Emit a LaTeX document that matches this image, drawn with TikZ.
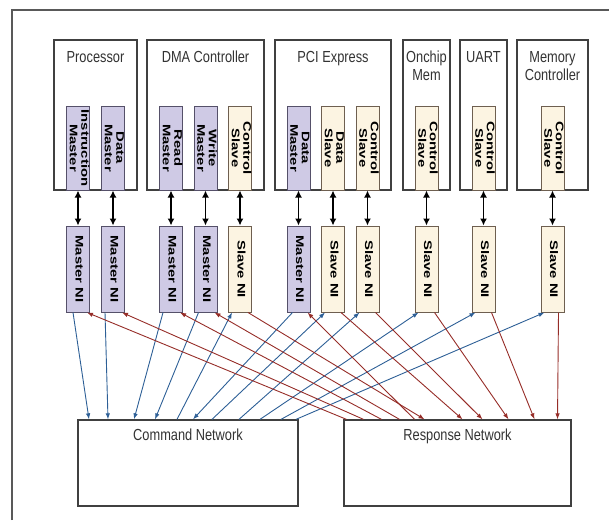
\documentclass[tikz,border=0pt]{standalone}
\usepackage{fontspec}
\setmainfont{Liberation Sans}
\usepackage{graphicx}
\usetikzlibrary{arrows.meta}
\definecolor{mastercol}{RGB}{207,202,229}
\definecolor{masterline}{RGB}{85,80,105}
\definecolor{slavecol}{RGB}{252,244,226}
\definecolor{slaveline}{RGB}{110,95,80}
\definecolor{cmdblue}{RGB}{45,95,150}
\definecolor{rspred}{RGB}{150,45,40}
\newcommand{\titlelbl}[1]{\scalebox{0.8}[1]{\begin{tabular}{@{}c@{}}#1\end{tabular}}}
\newcommand{\portlbl}[1]{\scalebox{1.35}[1]{\begin{tabular}{@{}c@{}}#1\end{tabular}}}
\tikzset{
    comp/.style={draw=black!75, line width=1.3pt, fill=white, minimum height=150pt, inner sep=0pt},
    ctitle/.style={anchor=north, inner sep=0pt, font=\fontsize{16}{18.5}\selectfont, text=black!80},
    port/.style={rotate=-90, minimum width=84pt, minimum height=23pt, inner sep=0pt, line width=1pt, font=\bfseries\fontsize{11}{11.5}\selectfont},
    mport/.style={port, draw=masterline, fill=mastercol},
    sport/.style={port, draw=slaveline, fill=slavecol},
    mni/.style={mport, minimum width=86pt},
    sni/.style={sport, minimum width=86pt},
    net/.style={draw=black!75, line width=1.3pt, minimum height=86pt, inner sep=0pt},
    link/.style={<->, >={Latex[length=7pt,width=7pt]}, line width=1.6pt},
    cmd/.style={->, >={Latex[length=6pt,width=4.5pt]}, draw=cmdblue, line width=0.9pt},
    rsp/.style={->, >={Latex[length=6pt,width=4.5pt]}, draw=rspred, line width=0.9pt}
}
\begin{document}
\begin{tikzpicture}[x=1pt, y=-1pt]
\useasboundingbox (0,0) rectangle (609,520);
\draw[line width=1.3pt, black!65] (12,520) -- (12,10) -- (609,10);

\node[comp, minimum width=83pt] (proc) at (95.5,115) {};
\node[comp, minimum width=117pt] (dma) at (205.5,115) {};
\node[comp, minimum width=116pt] (pcie) at (333,115) {};
\node[comp, minimum width=47pt] (onchip) at (426.5,115) {};
\node[comp, minimum width=47pt] (uart) at (483.5,115) {};
\node[comp, minimum width=71pt] (memctl) at (552.5,115) {};

\node[ctitle] (proct) at (95.5,49) {\titlelbl{Processor}};
\node[ctitle] (dmat) at (205.5,49) {\titlelbl{DMA Controller}};
\node[ctitle] (pciet) at (333,49) {\titlelbl{PCI Express}};
\node[ctitle] (onchipt) at (426.5,49) {\titlelbl{Onchip\\Mem}};
\node[ctitle] (uartt) at (483.5,49) {\titlelbl{UART}};
\node[ctitle] (memctlt) at (552.5,49) {\titlelbl{Memory\\Controller}};

\node[mport] (imst) at (78,148) {\portlbl{Instruction\\Master}};
\node[mport] (dmst) at (113,148) {\portlbl{Data\\Master}};
\node[mport] (rmst) at (171,148) {\portlbl{Read\\Master}};
\node[mport] (wmst) at (205.5,148) {\portlbl{Write\\Master}};
\node[sport] (dcsl) at (240,148) {\portlbl{Control\\Slave}};
\node[mport] (pdmst) at (298.5,148) {\portlbl{Data\\Master}};
\node[sport] (pdsl) at (333,148) {\portlbl{Data\\Slave}};
\node[sport] (pcsl) at (367.5,148) {\portlbl{Control\\Slave}};
\node[sport] (ocsl) at (426.5,148) {\portlbl{Control\\Slave}};
\node[sport] (ucsl) at (483.5,148) {\portlbl{Control\\Slave}};
\node[sport] (mcsl) at (552.5,148) {\portlbl{Control\\Slave}};

\node[mni] (imni) at (78,269) {\portlbl{Master NI}};
\node[mni] (dmni) at (113,269) {\portlbl{Master NI}};
\node[mni] (rmni) at (171,269) {\portlbl{Master NI}};
\node[mni] (wmni) at (205.5,269) {\portlbl{Master NI}};
\node[sni] (dcni) at (240,269) {\portlbl{Slave NI}};
\node[mni] (pdmni) at (298.5,269) {\portlbl{Master NI}};
\node[sni] (pdsni) at (333,269) {\portlbl{Slave NI}};
\node[sni] (pcsni) at (367.5,269) {\portlbl{Slave NI}};
\node[sni] (ocni) at (426.5,269) {\portlbl{Slave NI}};
\node[sni] (ucni) at (483.5,269) {\portlbl{Slave NI}};
\node[sni] (mcni) at (552.5,269) {\portlbl{Slave NI}};

\node[net, minimum width=220pt] (cmdnet) at (188,463) {};
\node[net, minimum width=227pt] (rspnet) at (457.5,463) {};
\node[ctitle] (cmdnett) at (188,427) {\titlelbl{Command Network}};
\node[ctitle] (rspnett) at (457.5,427) {\titlelbl{Response Network}};

\draw[link] (imst.east) -- (imni.west);
\draw[link] (dmst.east) -- (dmni.west);
\draw[link] (rmst.east) -- (rmni.west);
\draw[link] (wmst.east) -- (wmni.west);
\draw[link] (dcsl.east) -- (dcni.west);
\draw[link] (pdmst.east) -- (pdmni.west);
\draw[link] (pdsl.east) -- (pdsni.west);
\draw[link] (pcsl.east) -- (pcsni.west);
\draw[link] (ocsl.east) -- (ocni.west);
\draw[link] (ucsl.east) -- (ucni.west);
\draw[link] (mcsl.east) -- (mcni.west);

\draw[cmd] ([xshift=-5pt]imni.east) -- ([xshift=-99pt]cmdnet.north);
\draw[cmd] ([xshift=-8pt]dmni.east) -- ([xshift=-80pt]cmdnet.north);
\draw[cmd] ([xshift=-8pt]rmni.east) -- ([xshift=-54pt]cmdnet.north);
\draw[cmd] ([xshift=-7pt]wmni.east) -- ([xshift=-33pt]cmdnet.north);
\draw[cmd] ([xshift=-6pt]pdmni.east) -- ([xshift=5pt]cmdnet.north);
\draw[cmd] ([xshift=-11pt]cmdnet.north) -- ([xshift=-8pt]dcni.east);
\draw[cmd] ([xshift=24pt]cmdnet.north) -- ([xshift=-8pt]pdsni.east);
\draw[cmd] ([xshift=51pt]cmdnet.north) -- ([xshift=-8pt]pcsni.east);
\draw[cmd] ([xshift=72pt]cmdnet.north) -- ([xshift=-8pt]ocni.east);
\draw[cmd] ([xshift=93pt]cmdnet.north) -- ([xshift=-8pt]ucni.east);
\draw[cmd] ([xshift=108pt]cmdnet.north) -- ([xshift=-8pt]mcni.east);

\draw[rsp] ([xshift=-111pt]rspnet.north) -- ([xshift=9pt]imni.east);
\draw[rsp] ([xshift=-94pt]rspnet.north) -- ([xshift=9pt]dmni.east);
\draw[rsp] ([xshift=-76pt]rspnet.north) -- ([xshift=9pt]rmni.east);
\draw[rsp] ([xshift=-58pt]rspnet.north) -- ([xshift=9pt]wmni.east);
\draw[rsp] ([xshift=-43pt]rspnet.north) -- ([xshift=9pt]pdmni.east);
\draw[rsp] ([xshift=8pt]dcni.east) -- ([xshift=-33pt]rspnet.north);
\draw[rsp] ([xshift=8pt]pdsni.east) -- ([xshift=5pt]rspnet.north);
\draw[rsp] ([xshift=8pt]pcsni.east) -- ([xshift=25pt]rspnet.north);
\draw[rsp] ([xshift=8pt]ocni.east) -- ([xshift=51pt]rspnet.north);
\draw[rsp] ([xshift=8pt]ucni.east) -- ([xshift=77pt]rspnet.north);
\draw[rsp] ([xshift=6pt]mcni.east) -- ([xshift=100pt]rspnet.north);

\end{tikzpicture}
\end{document}
